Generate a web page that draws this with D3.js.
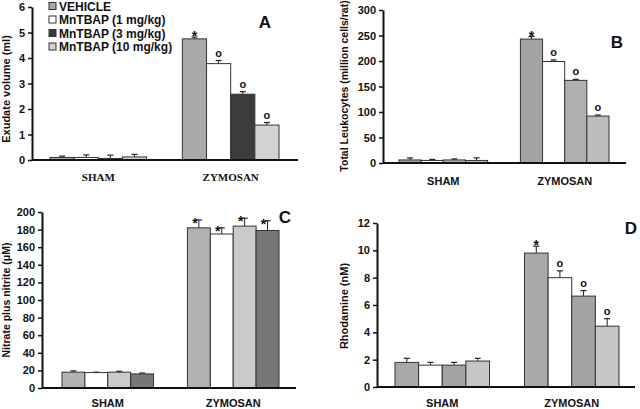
<!DOCTYPE html>
<html>
<head>
<meta charset="utf-8">
<script src="https://cdn.jsdelivr.net/npm/d3@7"></script>
<style>
  body { margin: 0; background: #fff; }
  svg { display: block; }
  .tick text { font-family: "Liberation Sans", Arial, sans-serif; font-weight: bold; font-size: 11px; fill: #111; }
  .axis path, .axis line { stroke: #111; }
</style>
</head>
<body>
<script>
// groups and series
const groups = ['SHAM', 'ZYMOSAN'];
const seriesNames = ['VEHICLE', 'MnTBAP (1 mg/kg)', 'MnTBAP (3 mg/kg)', 'MnTBAP (10 mg/kg)'];

// panel A: exudate volume (ml)
const exudateMean = [[0.10, 0.10, 0.06, 0.12], [4.75, 3.78, 2.58, 1.37]];
const exudateErr = [[0.05, 0.10, 0.13, 0.10], [0.07, 0.12, 0.10, 0.10]];
const exudateMarks = [['', '', '', ''], ['*', 'o', 'o', 'o']];
const exudateTicks = [0, 1, 2, 3, 4, 5, 6];

// panel B: total leukocytes (million cells/rat)
const leukoMean = [[6, 5, 6, 5], [243, 199, 162, 92]];
const leukoErr = [[4, 2, 2, 5], [5, 3, 2, 2]];
const leukoMarks = [['', '', '', ''], ['*', 'o', 'o', 'o']];
const leukoTicks = [0, 50, 100, 150, 200, 250, 300];

// panel C: nitrate plus nitrite (uM)
const nitriteMean = [[18, 17.5, 18, 16], [182, 175, 184, 179]];
const nitriteErr = [[1.5, 0.5, 1, 1], [9, 7, 9, 11]];
const nitriteMarks = [['', '', '', ''], ['*', '*', '*', '*']];
const nitriteTicks = [0, 20, 40, 60, 80, 100, 120, 140, 160, 180, 200];

// panel D: rhodamine (nM)
const rhodMean = [[1.8, 1.6, 1.6, 1.9], [9.8, 8.0, 6.65, 4.45]];
const rhodErr = [[0.3, 0.2, 0.2, 0.2], [0.5, 0.5, 0.4, 0.55]];
const rhodMarks = [['', '', '', ''], ['*', 'o', 'o', 'o']];
const rhodTicks = [0, 2, 4, 6, 8, 10, 12];

const svg = d3.select('body').append('svg')
  .attr('width', 640)
  .attr('height', 409);

const sans = '"Liberation Sans", Arial, sans-serif';
const serif = '"Liberation Serif", "Times New Roman", serif';

function drawPanel(p) {
  const g = svg.append('g');

  const y = d3.scaleLinear().domain([0, p.ticks[p.ticks.length - 1]]).range([p.y0, p.y1]);
  const x0 = d3.scaleBand().domain(groups).range(p.barRange).paddingInner(p.gap).paddingOuter(0);
  const x1 = d3.scaleBand().domain(d3.range(seriesNames.length)).range([0, x0.bandwidth()]);

  // bars
  groups.forEach((grp, gi) => {
    const gg = g.append('g').attr('transform', `translate(${x0(grp)},0)`);
    p.mean[gi].forEach((v, si) => {
      const bx = x1(si);
      const bw = x1.bandwidth();
      const cx = bx + bw / 2;
      const top = y(v + p.err[gi][si]);
      gg.append('line')
        .attr('x1', cx).attr('x2', cx)
        .attr('y1', y(v)).attr('y2', top)
        .attr('stroke', '#222').attr('stroke-width', 1);
      gg.append('line')
        .attr('x1', cx - 3).attr('x2', cx + 3)
        .attr('y1', top).attr('y2', top)
        .attr('stroke', '#222').attr('stroke-width', 1.2);
      gg.append('rect')
        .attr('x', bx).attr('y', y(v))
        .attr('width', bw).attr('height', y(0) - y(v))
        .attr('fill', p.fills[si])
        .attr('stroke', '#333').attr('stroke-width', 1);
      const mark = p.marks[gi][si];
      if (mark) {
        gg.append('text')
          .attr('x', cx + (p.markDx || 0))
          .attr('y', top + (mark === '*' ? 8 : 0) - (p.markDy === undefined ? 4 : p.markDy))
          .attr('text-anchor', 'middle')
          .style('font-family', sans)
          .style('font-weight', 'bold')
          .style('font-size', mark === '*' ? '14px' : '11px')
          .attr('fill', '#111')
          .text(mark);
      }
    });
  });

  // y axis
  const yAxis = d3.axisLeft(y).tickValues(p.ticks).tickFormat(d3.format('d'))
    .tickSize(4).tickSizeOuter(0).tickPadding(3);
  g.append('g')
    .attr('class', 'axis')
    .attr('transform', `translate(${p.axisX},0)`)
    .call(yAxis)
    .call(s => s.select('.domain').attr('stroke-width', 2))
    .call(s => s.selectAll('.tick line').attr('stroke-width', 1.5));

  // x baseline
  g.append('line')
    .attr('x1', p.axisX).attr('x2', p.axisEnd)
    .attr('y1', y(0)).attr('y2', y(0))
    .attr('stroke', '#111').attr('stroke-width', 2);

  // group labels
  groups.forEach(grp => {
    g.append('text')
      .attr('x', x0(grp) + x0.bandwidth() / 2)
      .attr('y', p.labelY)
      .attr('text-anchor', 'middle')
      .style('font-family', p.groupFont)
      .style('font-weight', 'bold')
      .style('font-size', '11px')
      .attr('fill', '#111')
      .text(grp);
  });

  // y title
  g.append('text')
    .attr('transform', `translate(${p.titleX},${p.titleY}) rotate(-90)`)
    .attr('text-anchor', 'middle')
    .style('font-family', sans)
    .style('font-weight', 'bold')
    .style('font-size', p.titleSize)
    .attr('fill', '#111')
    .text(p.title);

  // panel letter
  g.append('text')
    .attr('x', p.letterX).attr('y', p.letterY)
    .attr('text-anchor', 'middle')
    .style('font-family', sans)
    .style('font-weight', 'bold')
    .style('font-size', '17px')
    .attr('fill', '#111')
    .text(p.letter);
}

drawPanel({
  mean: exudateMean, err: exudateErr, marks: exudateMarks, ticks: exudateTicks,
  fills: ['#a9a9a9', '#ffffff', '#3c3c3c', '#d2d2d2'],
  y0: 160, y1: 7, axisX: 32, axisEnd: 298, barRange: [50, 279], gap: 0.27,
  labelY: 181, groupFont: serif,
  title: 'Exudate volume (ml)', titleX: 10, titleY: 89, titleSize: '11px',
  letter: 'A', letterX: 265, letterY: 28
});

drawPanel({
  mean: leukoMean, err: leukoErr, marks: leukoMarks, ticks: leukoTicks,
  fills: ['#a3a3a3', '#ffffff', '#b0b0b0', '#bcbcbc'],
  y0: 163, y1: 10, axisX: 383, axisEnd: 626, barRange: [399, 609], gap: 0.27,
  labelY: 185, groupFont: sans,
  title: 'Total Leukocytes (million cells/rat)', titleX: 348, titleY: 86, titleSize: '10.5px',
  letter: 'B', letterX: 617, letterY: 48
});

drawPanel({
  mean: nitriteMean, err: nitriteErr, marks: nitriteMarks, ticks: nitriteTicks,
  fills: ['#b2b2b2', '#ffffff', '#cacaca', '#777777'],
  y0: 388, y1: 212, axisX: 42, axisEnd: 296, barRange: [62, 279], gap: 0.27,
  labelY: 407, groupFont: sans, markDx: -4, markDy: 0,
  title: 'Nitrate plus nitrite (\u03bcM)', titleX: 10, titleY: 300, titleSize: '10.5px',
  letter: 'C', letterX: 285, letterY: 223
});

drawPanel({
  mean: rhodMean, err: rhodErr, marks: rhodMarks, ticks: rhodTicks,
  fills: ['#a9a9a9', '#ffffff', '#a3a3a3', '#c6c6c6'],
  y0: 387, y1: 223, axisX: 377, axisEnd: 635, barRange: [395, 619], gap: 0.27,
  labelY: 407, groupFont: sans,
  title: 'Rhodamine (nM)', titleX: 348, titleY: 306, titleSize: '11px',
  letter: 'D', letterX: 631, letterY: 234
});

// legend
const legendFills = ['#a9a9a9', '#ffffff', '#3c3c3c', '#d2d2d2'];
const legend = svg.append('g').attr('transform', 'translate(49,1)');
seriesNames.forEach((name, i) => {
  const ly = 5 + i * 13.5;
  legend.append('rect')
    .attr('x', 0).attr('y', ly - 3.5)
    .attr('width', 7).attr('height', 7)
    .attr('fill', legendFills[i])
    .attr('stroke', '#333').attr('stroke-width', 1);
  legend.append('text')
    .attr('x', 10).attr('y', ly + 4.5)
    .style('font-family', sans)
    .style('font-weight', 'bold')
    .style('font-size', '12px')
    .attr('fill', '#111')
    .text(name);
});
</script>
</body>
</html>
